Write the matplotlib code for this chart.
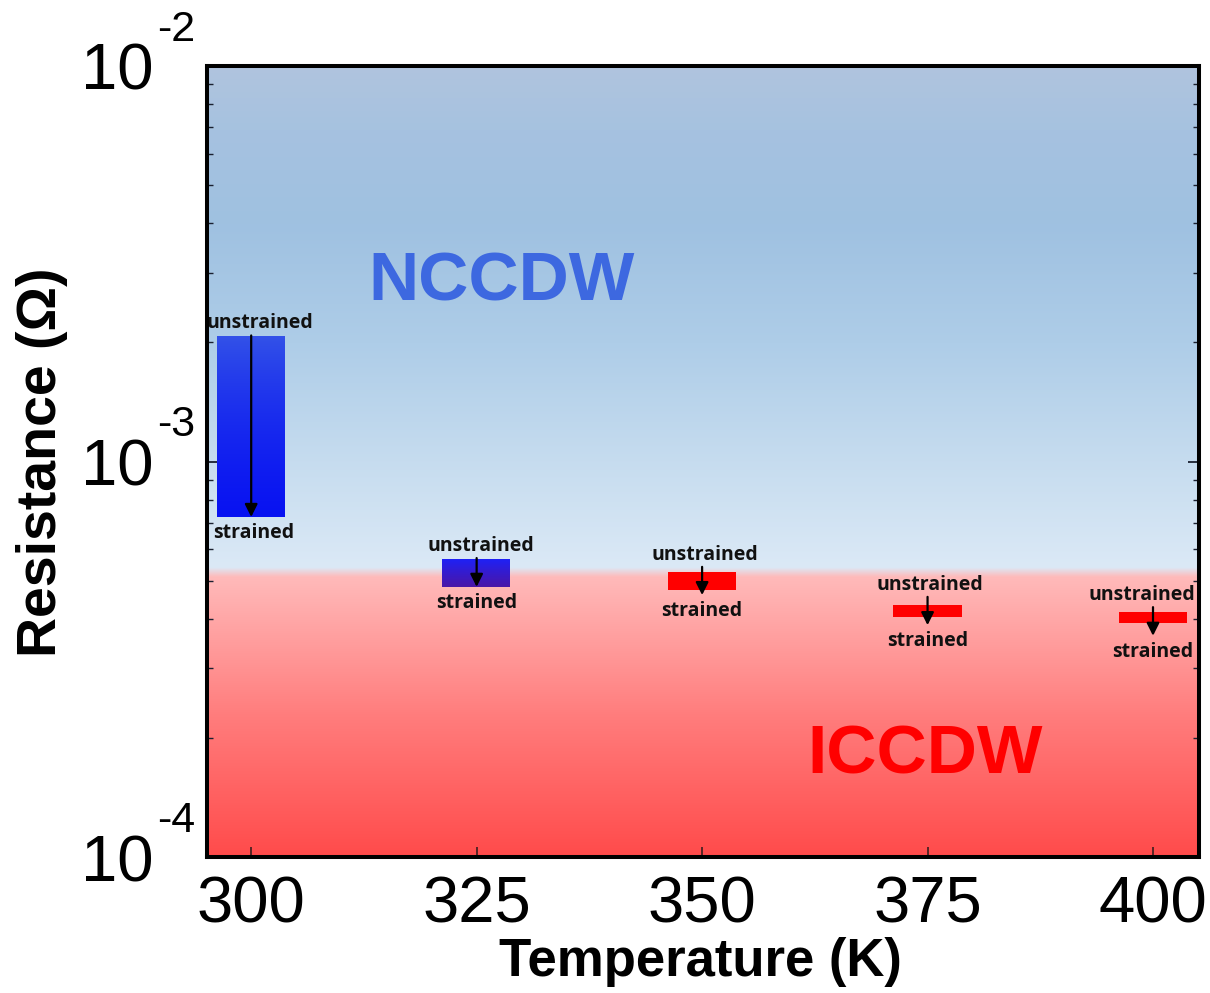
import numpy as np
import matplotlib
matplotlib.use("Agg")
import matplotlib.pyplot as plt
from matplotlib import font_manager as fm
from matplotlib.colors import to_rgb
from matplotlib.transforms import offset_copy
from matplotlib.ticker import NullFormatter, FixedLocator

# ---------------- data ----------------
temperatures = [300, 325, 350, 375, 400]
r_unstrained = [2.083e-3, 5.70e-4, 5.26e-4, 4.34e-4, 4.16e-4]
r_strained = [7.24e-4, 4.82e-4, 4.73e-4, 4.04e-4, 3.91e-4]
phase = ["NCCDW", "NCCDW", "ICCDW", "ICCDW", "ICCDW"]
x_ticks = [300, 325, 350, 375, 400]
y_exponents = [-4, -3, -2]

# ---------------- style ----------------
bar_width = 7.6
grad_top = {0: "#3352e8", 1: "#1c22fa"}
grad_bot = {0: "#0812f2", 1: "#4a16a8"}
solid_red = "#ff0000"
ext_top_px = [0, 0, 5, 8, 5]
ext_bot_px = [0, 0, 5, 8, 13]
lab_dx_u_px = [9, 4, 3, 2, -11]
lab_dx_s_px = [2, 0, 0, 0, 0]

def has_font(name):
    try:
        fm.findfont(fm.FontProperties(family=name), fallback_to_default=False)
        return True
    except Exception:
        return False

SANS = "Liberation Sans"
LABF = "Open Sans" if has_font("Open Sans") else "DejaVu Sans"
tick_fs = 47
ten_fs = 47
exp_fs = 31

plt.rcParams["font.family"] = [SANS, "DejaVu Sans"]

DPI = 100
fig = plt.figure(figsize=(12.1, 9.93), dpi=DPI)
ax = fig.add_axes([207 / 1210, 1 - 857 / 993, (1199 - 207) / 1210, (857 - 66) / 993])
ax.set_yscale("log")
XL = (295.1, 405.1)
YL = (1e-4, 1e-2)

# ---------------- background gradient ----------------
nodes = [(0.0, "#ff4b4b"), (0.18, "#ff7d7d"), (0.354, "#ffbaba"),
         (0.366, "#dbe9f6"), (0.5, "#c6dcef"), (0.65, "#aecde8"),
         (0.8, "#9fc1e1"), (0.92, "#a6c2e0"), (1.0, "#b0c4de")]
fr = np.linspace(0, 1, 1000)
cols = np.array([to_rgb(c) for _, c in nodes])
pos = np.array([p for p, _ in nodes])
img = np.stack([np.interp(fr, pos, cols[:, k]) for k in range(3)], axis=-1)[::-1][:, None, :]
ax.imshow(img, extent=[0, 1, 0, 1], transform=ax.transAxes, aspect="auto",
          zorder=0, interpolation="bilinear")

# ---------------- bars ----------------
heights = [u - s for u, s in zip(r_unstrained, r_strained)]
bars = ax.bar(temperatures, heights, bottom=r_strained, width=bar_width,
              color=[solid_red if p == "ICCDW" else "none" for p in phase],
              edgecolor="none", zorder=2)
for i, (b, p) in enumerate(zip(bars, phase)):
    if p == "NCCDW":
        t = np.linspace(0, 1, 200)
        c0 = np.array(to_rgb(grad_top[i]))
        c1 = np.array(to_rgb(grad_bot[i]))
        g = (c0[None, :] * (1 - t[:, None]) + c1[None, :] * t[:, None])[:, None, :]
        x0 = temperatures[i] - bar_width / 2
        im = ax.imshow(g, extent=[x0, x0 + bar_width, r_strained[i], r_unstrained[i]],
                       aspect="auto", zorder=2, interpolation="bilinear")
        im.set_clip_path(b)
ax.set_xlim(*XL)
ax.set_ylim(*YL)
ax.set_aspect("auto")

# ---------------- arrows & labels ----------------
for i, T in enumerate(temperatures):
    start_tr = offset_copy(ax.transData, fig=fig, x=0, y=ext_top_px[i], units="dots")
    end_tr = offset_copy(ax.transData, fig=fig, x=0, y=-ext_bot_px[i], units="dots")
    ax.annotate("", xy=(T, r_strained[i]), xycoords=end_tr,
                xytext=(T, r_unstrained[i]), textcoords=start_tr,
                arrowprops=dict(arrowstyle="-|>", color="black", lw=1.6,
                                mutation_scale=19, shrinkA=0, shrinkB=0),
                zorder=4)
    ax.annotate("unstrained", xy=(T, r_unstrained[i]), xycoords=start_tr,
                xytext=(lab_dx_u_px[i] * 72 / DPI, 12 * 72 / DPI), textcoords="offset points",
                ha="center", va="center", fontsize=14, fontweight="bold",
                family=LABF, color="#111111", zorder=5)
    ax.annotate("strained", xy=(T, r_strained[i]), xycoords=end_tr,
                xytext=(lab_dx_s_px[i] * 72 / DPI, -16 * 72 / DPI), textcoords="offset points",
                ha="center", va="center", fontsize=14, fontweight="bold",
                family=LABF, color="#111111", zorder=5)

# ---------------- phase labels ----------------
ax.text(0.297, 0.704, "NCCDW", transform=ax.transAxes, ha="center", va="baseline",
        fontsize=50, fontweight="bold", color="#3d68e0", zorder=3)
ax.text(0.724, 0.106, "ICCDW", transform=ax.transAxes, ha="center", va="baseline",
        fontsize=50, fontweight="bold", color="#ff0000", zorder=3)

# ---------------- axes styling ----------------
for s in ax.spines.values():
    s.set_linewidth(2.9)
    s.set_color("black")
    s.set_zorder(6)

ax.set_xticks(x_ticks)
ax.set_xticklabels([str(v) for v in x_ticks], fontsize=tick_fs)
ax.yaxis.set_major_locator(FixedLocator([10.0 ** e for e in y_exponents]))
ax.yaxis.set_minor_formatter(NullFormatter())
ax.tick_params(axis="x", which="major", direction="in", length=7, width=1.1,
               color="#2a1a1a", pad=13, top=False, bottom=True)
ax.tick_params(axis="x", which="minor", bottom=False, top=False)
ax.tick_params(axis="y", which="both", direction="in", left=True, right=True,
               labelleft=False, color="#1a2030")
ax.tick_params(axis="y", which="major", length=8, width=1.3)
ax.tick_params(axis="y", which="minor", length=4, width=1.0)

# y tick labels: "10" with a superscript hyphen exponent
ytr = ax.get_yaxis_transform()
for e in y_exponents:
    ax.annotate("10", xy=(0, 10.0 ** e), xycoords=ytr,
                xytext=(-54 * 72 / DPI, -24 * 72 / DPI), textcoords="offset points",
                ha="right", va="baseline", fontsize=ten_fs,
                annotation_clip=False)
    ax.annotate("-%d" % abs(e), xy=(0, 10.0 ** e), xycoords=ytr,
                xytext=(-50 * 72 / DPI, 25 * 72 / DPI), textcoords="offset points",
                ha="left", va="baseline", fontsize=exp_fs,
                annotation_clip=False)

ax.set_xlabel("Temperature (K)", fontsize=38, fontweight="bold")
ax.xaxis.set_label_coords(0.497, -0.133)
ax.xaxis.label.set_va("center")
ax.set_ylabel("Resistance (\u03a9)", fontsize=40, fontweight="bold")
ax.yaxis.set_label_coords(-0.166, 0.4994)
ax.yaxis.label.set_va("center")

fig.savefig("out.png", dpi=DPI)
